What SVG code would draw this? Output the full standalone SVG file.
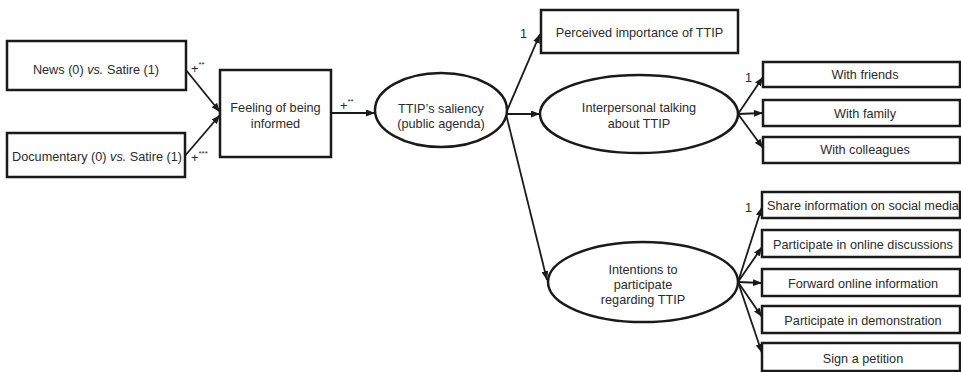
<svg xmlns="http://www.w3.org/2000/svg" width="961" height="372" viewBox="0 0 961 372">
<defs>
<marker id="arr" viewBox="0 0 9 7" refX="9" refY="3.5" markerWidth="9" markerHeight="7" markerUnits="userSpaceOnUse" orient="auto">
<path d="M0,0 L9,3.5 L0,7 z" fill="#1a1a1a"/>
</marker>
<style>
.box{fill:#fff;stroke:#1a1a1a;stroke-width:2.5}
.t{font-family:"Liberation Sans",Arial,sans-serif;font-size:12.7px;fill:#2b2b2b;text-anchor:middle}
.lbl{font-family:"Liberation Sans",Arial,sans-serif;font-size:12.7px;fill:#2b2b2b}
.sup{font-size:8px}
.c{fill:none;stroke:#1a1a1a;stroke-width:1.8;marker-end:url(#arr)}
</style>
</defs>
<rect width="961" height="372" fill="#fff"/>
<g id="connectors">
<line class="c" x1="186" y1="70" x2="220" y2="112"/>
<line class="c" x1="184" y1="157" x2="220" y2="115"/>
<line class="c" x1="331" y1="113" x2="375" y2="113"/>
<line class="c" x1="506" y1="113" x2="540" y2="34"/>
<line class="c" x1="506" y1="114" x2="540" y2="114"/>
<line class="c" x1="506" y1="114" x2="547" y2="280"/>
<line class="c" x1="738" y1="114" x2="763" y2="77"/>
<line class="c" x1="738" y1="114" x2="763" y2="113"/>
<line class="c" x1="738" y1="114" x2="763" y2="148"/>
<line class="c" x1="738" y1="282" x2="762" y2="207"/>
<line class="c" x1="738" y1="282" x2="762" y2="247"/>
<line class="c" x1="738" y1="282" x2="762" y2="283"/>
<line class="c" x1="738" y1="282" x2="762" y2="317"/>
<line class="c" x1="738" y1="282" x2="762" y2="353"/>
<text class="lbl" x="191" y="73">+<tspan class="sup" dy="-6">**</tspan></text>
<text class="lbl" x="191" y="162">+<tspan class="sup" dy="-6">***</tspan></text>
<text class="lbl" x="340" y="110">+<tspan class="sup" dy="-6">**</tspan></text>
<text class="lbl" x="520" y="38">1</text>
<text class="lbl" x="745" y="82">1</text>
<text class="lbl" x="745" y="212">1</text>
</g>
<g id="news">
<rect class="box" x="7" y="41" width="179" height="49"/>
<text class="t" x="96" y="73.5">News (0) <tspan font-style="italic">vs.</tspan> Satire (1)</text>
</g>
<g id="documentary">
<rect class="box" x="7" y="133" width="178" height="44"/>
<text class="t" x="97" y="160.5">Documentary (0) <tspan font-style="italic">vs.</tspan> Satire (1)</text>
</g>
<g id="feeling">
<rect class="box" x="220" y="70" width="111" height="87"/>
<text class="t" x="275.5" y="112">Feeling of being</text>
<text class="t" x="275.5" y="128">informed</text>
</g>
<g id="saliency">
<ellipse class="box" cx="441" cy="110" rx="66" ry="37"/>
<text class="t" x="441" y="112.5">TTIP’s saliency</text>
<text class="t" x="441" y="128">(public agenda)</text>
</g>
<g id="perceived">
<rect class="box" x="541" y="10" width="197" height="43"/>
<text class="t" x="639.5" y="37">Perceived importance of TTIP</text>
</g>
<g id="interpersonal">
<ellipse class="box" cx="639" cy="114" rx="99" ry="39"/>
<text class="t" x="639" y="112">Interpersonal talking</text>
<text class="t" x="639" y="128">about TTIP</text>
</g>
<g id="intentions">
<ellipse class="box" cx="643" cy="282" rx="95" ry="40"/>
<text class="t" x="643" y="274">Intentions to</text>
<text class="t" x="643" y="289">participate</text>
<text class="t" x="643" y="303.5">regarding TTIP</text>
</g>
<g id="friends">
<rect class="box" x="763" y="62" width="197" height="25"/>
<text class="t" x="865" y="79">With friends</text>
</g>
<g id="family">
<rect class="box" x="763" y="100" width="197" height="26"/>
<text class="t" x="865" y="117.5">With family</text>
</g>
<g id="colleagues">
<rect class="box" x="763" y="137" width="197" height="26"/>
<text class="t" x="865" y="153.5">With colleagues</text>
</g>
<g id="share">
<rect class="box" x="762" y="192" width="198" height="26"/>
<text class="t" x="863" y="209.5">Share information on social media</text>
</g>
<g id="discussions">
<rect class="box" x="762" y="230" width="198" height="27"/>
<text class="t" x="863" y="248.5">Participate in online discussions</text>
</g>
<g id="forward">
<rect class="box" x="762" y="269" width="198" height="27"/>
<text class="t" x="863" y="287.5">Forward online information</text>
</g>
<g id="demonstration">
<rect class="box" x="762" y="306" width="198" height="27"/>
<text class="t" x="863" y="324.5">Participate in demonstration</text>
</g>
<g id="petition">
<rect class="box" x="762" y="343" width="198" height="28"/>
<text class="t" x="863" y="362.5">Sign a petition</text>
</g>
</svg>
